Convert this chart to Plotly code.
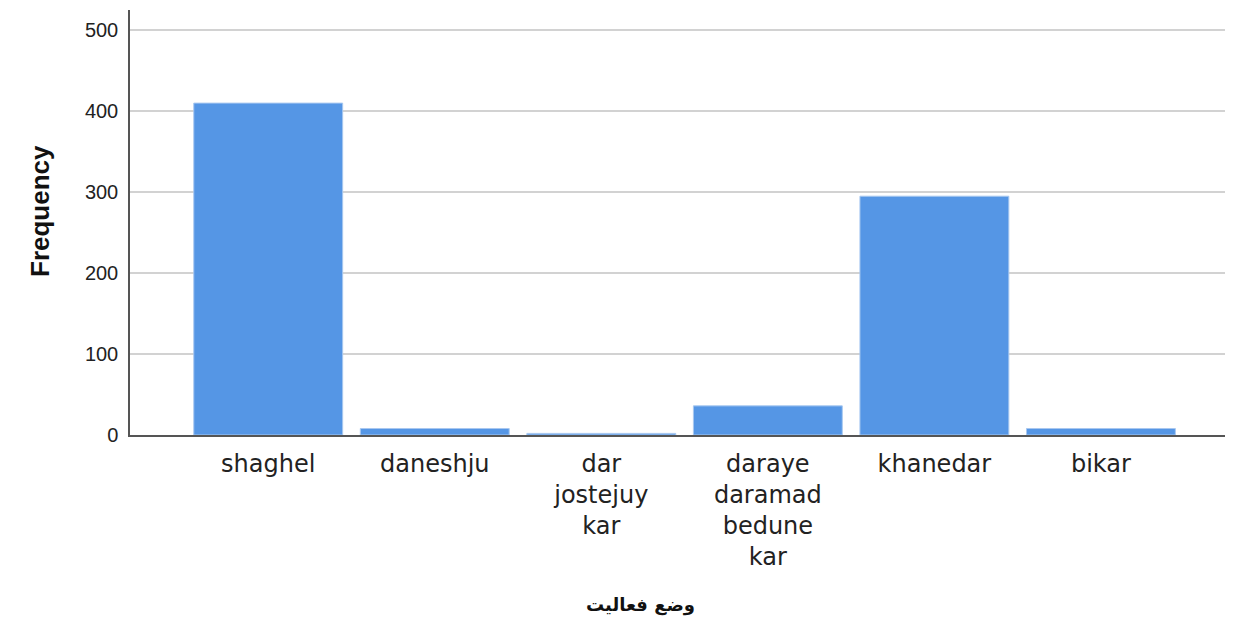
import plotly.graph_objects as go

categories = [
    "shaghel",
    "daneshju",
    "dar<br>jostejuy<br>kar",
    "daraye<br>daramad<br>bedune<br>kar",
    "khanedar",
    "bikar",
]
frequency = [410, 8, 2, 36, 295, 8]
y_ticks = [0, 100, 200, 300, 400, 500]

BAR_COLOR = "#5596e5"
AXIS_COLOR = "#555555"
GRID_COLOR = "#d2d2d2"
TEXT_COLOR = "#222222"

# page body has an 8px margin, so the figure is shrunk by that much
W, H = 1245, 618
ML, MR, MT, MB = 122, 28, 2, 191
plot_w = W - ML - MR
plot_h = H - MT - MB

fig = go.Figure()

fig.add_trace(
    go.Bar(
        x=categories,
        y=frequency,
        marker=dict(color=BAR_COLOR, line=dict(color="#a8c8f0", width=1)),
        hoverinfo="x+y",
    )
)

fig.update_layout(
    width=W,
    height=H,
    margin=dict(l=ML, r=MR, t=MT, b=MB),
    paper_bgcolor="white",
    plot_bgcolor="white",
    bargap=0.106,
    showlegend=False,
    font=dict(family="Liberation Sans, Arial, sans-serif", color=TEXT_COLOR),
)

fig.update_xaxes(
    type="category",
    range=[-0.83, 5.745],
    showline=True,
    linecolor=AXIS_COLOR,
    linewidth=1.5,
    showgrid=False,
    ticks="",
    tickfont=dict(family="DejaVu Sans", size=24, color=TEXT_COLOR),
    ticklabelstandoff=6,
)

fig.update_yaxes(
    range=[0, 525],
    tickvals=y_ticks,
    showline=True,
    linecolor=AXIS_COLOR,
    linewidth=1.5,
    showgrid=True,
    gridcolor=GRID_COLOR,
    gridwidth=1.5,
    zeroline=False,
    ticks="",
    tickfont=dict(size=20, color=TEXT_COLOR),
    ticklabelstandoff=6,
)

# axis titles placed where the reference puts them
fig.add_annotation(
    text="<b>Frequency</b>",
    textangle=-90,
    xref="paper",
    yref="paper",
    x=(40 - 130) / plot_w,
    y=(435 - 211) / plot_h,
    xanchor="center",
    yanchor="middle",
    showarrow=False,
    font=dict(size=26, color="#111111"),
)

fig.add_annotation(
    text="<b>وضع فعالیت</b>",
    xref="paper",
    yref="paper",
    x=(640 - 130) / plot_w,
    y=(435 - 605) / plot_h,
    xanchor="center",
    yanchor="middle",
    showarrow=False,
    font=dict(family="DejaVu Sans", size=18, color="#111111"),
)

fig.write_html("out.html")
